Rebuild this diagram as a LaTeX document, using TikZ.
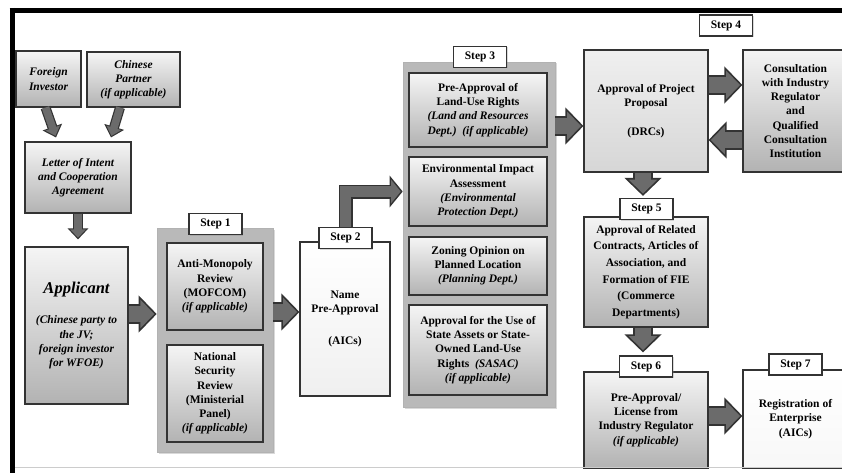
\documentclass[tikz,border=0pt]{standalone}
\usepackage{fontspec}
\setmainfont{Liberation Serif}
\usetikzlibrary{positioning, calc, arrows.meta, shadows}

\begin{document}
\begin{tikzpicture}[x=1pt, y=-1pt, thick, font=\bfseries\fontsize{11.5}{14.2}\selectfont]
        % Define block styles
        \tikzstyle{box} = [rectangle, draw=black!80, line width=1.1pt, top color=gray!8, bottom color=gray!60, align=center, inner sep=2pt, drop shadow={opacity=0.35, shadow xshift=1.2pt, shadow yshift=-1.2pt}]
        \tikzstyle{ibox} = [box, font=\bfseries\itshape\fontsize{11.5}{14.2}\selectfont]
        \tikzstyle{whitebox} = [box, top color=white, bottom color=gray!12]
        \tikzstyle{group} = [rectangle, fill=gray!55, draw=gray!60, line width=0.6pt, drop shadow={opacity=0.3, shadow xshift=1.5pt, shadow yshift=-1.5pt}]
        \tikzstyle{steplabel} = [rectangle, draw=black!80, line width=1.1pt, fill=white, minimum width=53pt, minimum height=21pt, inner sep=1pt, drop shadow={opacity=0.3, shadow xshift=1pt, shadow yshift=-1pt}]
        \tikzstyle{fatarrow} = [line width=20pt, draw=black!80, line join=miter, -{Triangle[length=18pt, width=36pt]}, postaction={draw=black!58, line width=16.6pt, shorten >=2.4pt, -{Triangle[length=14pt, width=28pt]}}]
        \tikzstyle{bentarrow} = [line width=14pt, draw=black!80, line join=miter, -{Triangle[length=13pt, width=31pt]}, postaction={draw=black!58, line width=11.4pt, shorten >=2pt, -{Triangle[length=9.6pt, width=23pt]}}]
        \tikzstyle{thinarrow} = [line width=10pt, draw=black!80, -{Triangle[length=11pt, width=20pt]}, postaction={draw=black!58, line width=7.6pt, shorten >=1.7pt, -{Triangle[length=8.3pt, width=15pt]}}]

        \useasboundingbox (0,0) rectangle (842,473);
        \clip (0,0) rectangle (842,473);

        % Step groups
        \node [group, minimum width=116pt, minimum height=224pt] (grp1) at (215,340) {};
        \node [group, minimum width=152pt, minimum height=345pt] (grp3) at (479,234.5) {};

        % Place nodes
        \node [ibox, minimum width=65pt, minimum height=56pt] (foreign) at (48.5,79) {Foreign\\Investor};
        \node [ibox, minimum width=93pt, minimum height=55pt] (partner) at (133.5,79.5) {Chinese\\Partner\\(if applicable)};
        \node [ibox, minimum width=106pt, minimum height=71pt] (letter) at (78,177.5) {Letter of Intent\\and Cooperation\\Agreement};
        \node [ibox, minimum width=103pt, minimum height=157pt] (applicant) at (76.5,325.5) {{\fontsize{16.5}{18}\selectfont Applicant}\\[16pt](Chinese party to\\the JV;\\foreign investor\\for WFOE)};

        \node [box, minimum width=96pt, minimum height=87pt] (antimono) at (215,286.5) {Anti-Monopoly\\Review\\(MOFCOM)\\\textit{(if applicable)}};
        \node [box, minimum width=96pt, minimum height=97pt] (security) at (215,393.5) {National\\Security\\Review\\(Ministerial\\Panel)\\\textit{(if applicable)}};

        \node [whitebox, minimum width=90pt, minimum height=154pt] (name) at (345,319) {Name\\Pre-Approval\\[18pt](AICs)};

        \node [box, minimum width=138pt, minimum height=74pt] (landuse) at (478,110) {Pre-Approval of\\Land-Use Rights\\\textit{(Land and Resources}\\\textit{Dept.)\ \ (if applicable)}};
        \node [box, minimum width=138pt, minimum height=69pt] (environ) at (478,191.5) {Environmental Impact\\Assessment\\\textit{(Environmental}\\\textit{Protection Dept.)}};
        \node [box, minimum width=138pt, minimum height=58pt] (zoning) at (478,266) {Zoning Opinion on\\Planned Location\\\textit{(Planning Dept.)}};
        \node [box, minimum width=138pt, minimum height=90pt] (sasac) at (478,350) {Approval for the Use of\\State Assets or State-\\Owned Land-Use\\Rights\ \ \textit{(SASAC)}\\\textit{(if applicable)}};

        \node [box, top color=gray!12, bottom color=gray!32, minimum width=124pt, minimum height=122pt] (proposal) at (646,111) {Approval of Project\\Proposal\\[14pt](DRCs)};
        \node [box, minimum width=105pt, minimum height=122pt] (consult) at (795.5,111) {Consultation\\with Industry\\Regulator\\and\\Qualified\\Consultation\\Institution};
        \node [box, font=\bfseries\fontsize{11.5}{16.6}\selectfont, minimum width=124pt, minimum height=110pt] (fie) at (646,272) {Approval of Related\\Contracts, Articles of\\Association, and\\Formation of FIE\\(Commerce\\Departments)};
        \node [box, minimum width=124pt, minimum height=96pt] (license) at (646,420) {Pre-Approval/\\License from\\Industry Regulator\\\textit{(if applicable)}};
        \node [whitebox, top color=white, bottom color=gray!6, minimum width=105pt, minimum height=98pt] (registration) at (795.5,419) {Registration of\\Enterprise\\(AICs)};

        % Step labels
        \node [steplabel] (step1) at (215.5,224) {Step 1};
        \node [steplabel] (step2) at (345.5,238) {Step 2};
        \node [steplabel] (step3) at (480,57) {Step 3};
        \node [steplabel] (step4) at (726,25.5) {Step 4};
        \node [steplabel] (step5) at (646.5,209) {Step 5};
        \node [steplabel] (step6) at (646,366.5) {Step 6};
        \node [steplabel] (step7) at (795.5,364.5) {Step 7};

        % Draw connections as arrows
        \draw [thinarrow] ([xshift=-3pt]foreign.south) -- ([xshift=-22pt, yshift=4pt]letter.north);
        \draw [thinarrow] ([xshift=-13.5pt]partner.south) -- ([xshift=33pt, yshift=4pt]letter.north);
        \draw [thinarrow] (letter.south) -- ([yshift=7pt]letter.south |- applicant.north);
        \draw [fatarrow] ([yshift=11.5pt]applicant.east) -- ([yshift=11.5pt]applicant.east -| grp1.west);
        \draw [fatarrow] ([yshift=28pt]grp1.east) -- ([yshift=28pt]grp1.east -| name.west);
        \draw [bentarrow] (step2.north) |- (grp3.west |- environ.west);
        \draw [fatarrow] ([yshift=-15pt]proposal.west -| grp3.east) -- ([yshift=-15pt]proposal.west);
        \draw [fatarrow] ([yshift=26pt]proposal.east) -- ([yshift=26pt]proposal.east -| consult.west);
        \draw [fatarrow] ([yshift=-29pt]consult.west) -- ([yshift=-29pt]consult.west -| proposal.east);
        \draw [fatarrow] ([xshift=-3pt]proposal.south) -- ([xshift=-3pt, yshift=2pt]proposal.south |- step5.north);
        \draw [fatarrow] ([xshift=-3pt]fie.south) -- ([xshift=-3pt, yshift=3pt]fie.south |- step6.north);
        \draw [fatarrow] ([yshift=4pt]license.east) -- ([yshift=4pt]license.east -| registration.west);

        % Frame
        \draw [gray!40, line width=1pt] (14,467) -- (842,467);
        \draw [black, line width=5pt] (12,8) -- (12,473);
        \draw [black, line width=5pt] (9.5,10.5) -- (842,10.5);
    \end{tikzpicture}
\end{document}
